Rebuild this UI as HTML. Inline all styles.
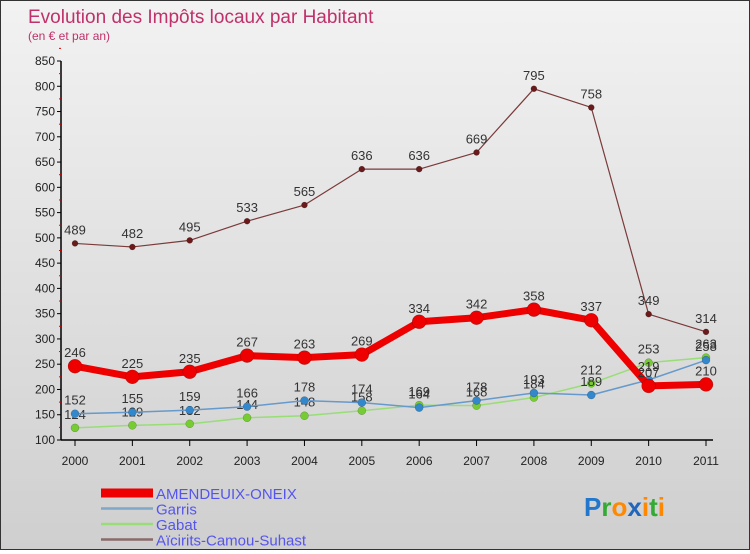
<!DOCTYPE html>
<html><head><meta charset="utf-8"><style>
body{margin:0;width:750px;height:550px;overflow:hidden;font-family:"Liberation Sans",sans-serif}
#wrap{position:relative;width:748px;height:548px;border:1px solid #333;background:linear-gradient(#f2f2f2,#cfcfcf)}
</style></head><body>
<div id="wrap">
<svg id="chart" width="748" height="548" font-family="Liberation Sans, sans-serif"></svg>
</div>
<script>
const years=[2000,2001,2002,2003,2004,2005,2006,2007,2008,2009,2010,2011];
const ameValues=[246,225,235,267,263,269,334,342,358,337,207,210];
const garrisValues=[152,155,159,166,178,174,164,178,193,189,219,258];
const gabatValues=[124,129,132,144,148,158,169,168,184,212,253,263];
const aicValues=[489,482,495,533,565,636,636,669,795,758,349,314];
const yTicks=[100,150,200,250,300,350,400,450,500,550,600,650,700,750,800,850];
const NS='http://www.w3.org/2000/svg';
const svg=document.getElementById('chart');
function X(i){return 74+i*(705-74)/11;}
function Y(v){return 439-(v-100)*(379/750);}
function el(t,a,p){const e=document.createElementNS(NS,t);for(const k in a)e.setAttribute(k,a[k]);(p||svg).appendChild(e);return e;}
function txt(s,a){const e=el('text',a);e.textContent=s;return e;}
const t1=txt('Evolution des Impôts locaux par Habitant',{x:27,y:22,fill:'#c0306a','font-size':19});

const t2=txt('(en € et par an)',{x:27,y:39,fill:'#c0306a','font-size':12});

const ax=el('line',{x1:60,y1:Y(yTicks[yTicks.length-1]),x2:60,y2:439,stroke:'#000','stroke-width':1.5});

const xa=el('line',{x1:60,y1:439,x2:712,y2:439,stroke:'#000','stroke-width':1.5});

yTicks.forEach(v=>{
 el('line',{x1:56,y1:Y(v),x2:60,y2:Y(v),stroke:'#000'});
 el('line',{x1:58,y1:Y(v+25),x2:60,y2:Y(v+25),stroke:'#d00'});
 const t=txt(v,{x:54,y:Y(v)+4,'text-anchor':'end','font-size':12,fill:'#222'});
 
});
years.forEach((y,i)=>{
 el('line',{x1:X(i),y1:439,x2:X(i),y2:445,stroke:'#000'});
 const t=txt(y,{x:X(i),y:464,'text-anchor':'middle','font-size':12,fill:'#222'});
 
});
function series(vals,color,w,r,name,dot){
 const g=el('g',{});
 
 el('polyline',{points:vals.map((v,i)=>X(i)+','+Y(v)).join(' '),fill:'none',stroke:color,'stroke-width':w,'stroke-linejoin':'round'},g);
 vals.forEach((v,i)=>{
  const c=el('circle',{cx:X(i),cy:Y(v),r:r,fill:dot,stroke:'rgba(0,0,0,0.3)','stroke-width':0.5},g);
  
  const t=txt(v,{x:X(i),y:Y(v)-9,'text-anchor':'middle','font-size':13,fill:'#333'});
  
 });
}
series(aicValues,'#7a3a3a',1.2,3,'aicirits','#6a1a1a');
series(gabatValues,'#99dd77',1.5,4,'gabat','#77cc33');
series(garrisValues,'#6699cc',1.5,4,'garris','#3388cc');
series(ameValues,'#ee0000',7,7,'amendeuix','#ee0000');
const leg=[['AMENDEUIX-ONEIX','#ee0000',9],['Garris','#7ea7c8',2.5],['Gabat','#99dd77',2.5],['Aïcirits-Camou-Suhast','#8a6a6a',2.5]];
leg.forEach((l,i)=>{
 const y=492+i*15.5;
 const g=el('g',{});
 el('line',{x1:100,y1:y,x2:152,y2:y,stroke:l[1],'stroke-width':l[2]},g);
 const t=el('text',{x:155,y:y+6,'font-size':15,fill:'#5555ee'},g);t.textContent=l[0];
});
const logo=el('text',{x:583,y:515,'font-size':26,'font-weight':'bold'});

[['P','#2277cc'],['r','#33aa33'],['o','#ff8800'],['x','#2266bb'],['i','#ff8800'],['t','#33aa33'],['i','#ff8800']].forEach(p=>{const s=el('tspan',{fill:p[1]},logo);s.textContent=p[0];});
</script>
</body></html>
